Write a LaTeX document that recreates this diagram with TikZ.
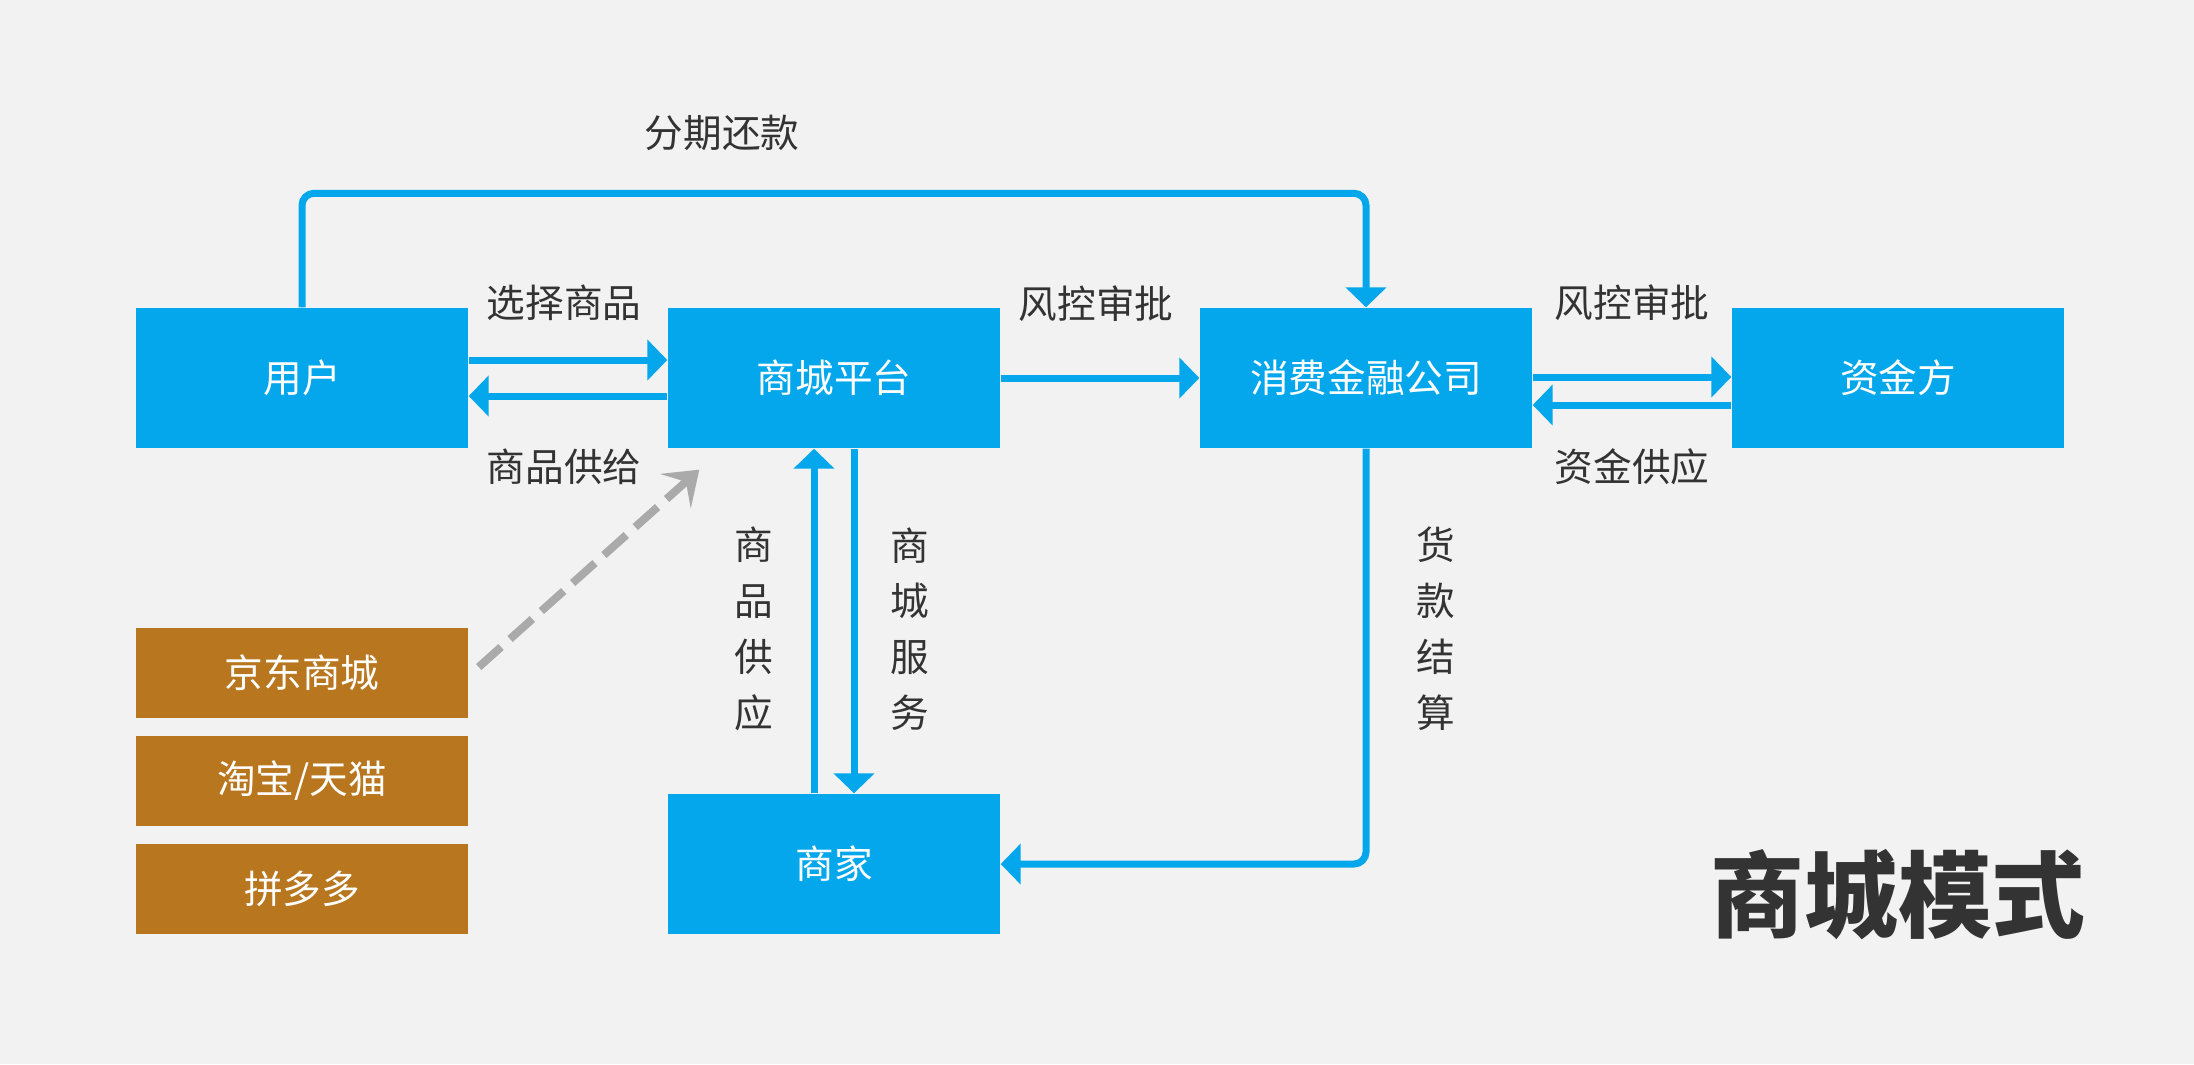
\documentclass[tikz,border=0pt]{standalone}
\usepackage{fontspec}
\setmainfont{Noto Sans CJK SC}
\usetikzlibrary{arrows.meta, positioning, calc}
\definecolor{mallblue}{RGB}{5, 167, 236}
\definecolor{sitebrown}{RGB}{184, 118, 30}
\definecolor{hintgray}{RGB}{170, 170, 170}
\definecolor{inkgray}{RGB}{51, 51, 51}
\definecolor{paper}{RGB}{242, 242, 242}
\tikzset{
  blockbox/.style={
    fill=mallblue,
    minimum width=33.2mm,
    minimum height=14mm,
    inner sep=0pt,
    font=\fontsize{11}{13}\selectfont\color{white}
  },
  sitebox/.style={
    fill=sitebrown,
    minimum width=33.2mm,
    minimum height=9mm,
    inner sep=0pt,
    font=\fontsize{11}{13}\selectfont\color{white}
  },
  flow/.style={
    draw=mallblue,
    line width=0.7mm,
    -{Triangle[length=2mm, width=4mm]}
  },
  hint/.style={
    draw=hintgray,
    line width=0.8mm,
    dash pattern=on 3mm off 1.2mm,
    -{Stealth[length=3.2mm, width=4.6mm, inset=1.4mm]}
  },
  caption/.style={
    inner sep=0pt,
    font=\fontsize{11}{15.9}\selectfont\color{inkgray},
    align=center
  }
}

\begin{document}
\begin{tikzpicture}
  \fill[paper] (0,0) rectangle (21.94,-10.64);
  \useasboundingbox (0,0) rectangle (21.94,-10.64);

  % main blocks
  \node[blockbox] (user) at (3.02, -3.78) {用户};
  \node[blockbox] (mall) at (8.34, -3.78) {商城平台};
  \node[blockbox] (cfc) at (13.66, -3.78) {消费金融公司};
  \node[blockbox] (fund) at (18.98, -3.78) {资金方};
  \node[blockbox] (merchant) at (8.34, -8.64) {商家};

  % example malls
  \node[sitebox] (jd) at (3.02, -6.73) {京东商城};
  \node[sitebox] (tb) at (3.02, -7.81) {淘宝/天猫};
  \node[sitebox] (pdd) at (3.02, -8.89) {拼多多};

  \node[font=\fontsize{26.7}{30}\selectfont\bfseries\color{inkgray}, inner sep=0pt] (title) at (18.98, -8.95) {商城模式};

  % connectors
  \draw[flow] ([yshift=1.8mm]user.east) -- ([yshift=1.8mm]mall.west);
  \draw[flow] ([yshift=-1.8mm]mall.west) -- ([yshift=-1.8mm]user.east);
  \draw[flow] (mall.east) -- (cfc.west);
  \draw[flow] ([yshift=0.1mm]cfc.east) -- ([yshift=0.1mm]fund.west);
  \draw[flow] ([yshift=-2.7mm]fund.west) -- ([yshift=-2.7mm]cfc.east);
  \draw[flow, rounded corners=1.2mm] (user.north) -- ++(0, 1.14) -| (cfc.north);
  \draw[flow] ([xshift=-2mm]merchant.north) -- ([xshift=-2mm]mall.south);
  \draw[flow] ([xshift=2mm]mall.south) -- ([xshift=2mm]merchant.north);
  \draw[flow, rounded corners=1.2mm] (cfc.south) |- (merchant.east);

  \coordinate (tip) at ([xshift=3.2mm, yshift=-2.1mm]mall.south west);
  \draw[hint] ([xshift=1mm, yshift=0.6mm]jd.east) -- (tip);

  % labels
  \node[caption] (repay) at (7.22, -1.33) {分期还款};
  \node[caption] (pick) at (5.64, -3.03) {选择商品};
  \node[caption] (give) at (5.64, -4.67) {商品供给};
  \node[caption] (risk1) at (10.96, -3.04) {风控审批};
  \node[caption] (risk2) at (16.32, -3.03) {风控审批};
  \node[caption] (supply) at (16.32, -4.67) {资金供应};
  \node[caption] (goods) at (7.54, -6.29) {商\\品\\供\\应};
  \node[caption] (service) at (9.10, -6.29) {商\\城\\服\\务};
  \node[caption] (settle) at (14.36, -6.29) {货\\款\\结\\算};
\end{tikzpicture}
\end{document}
